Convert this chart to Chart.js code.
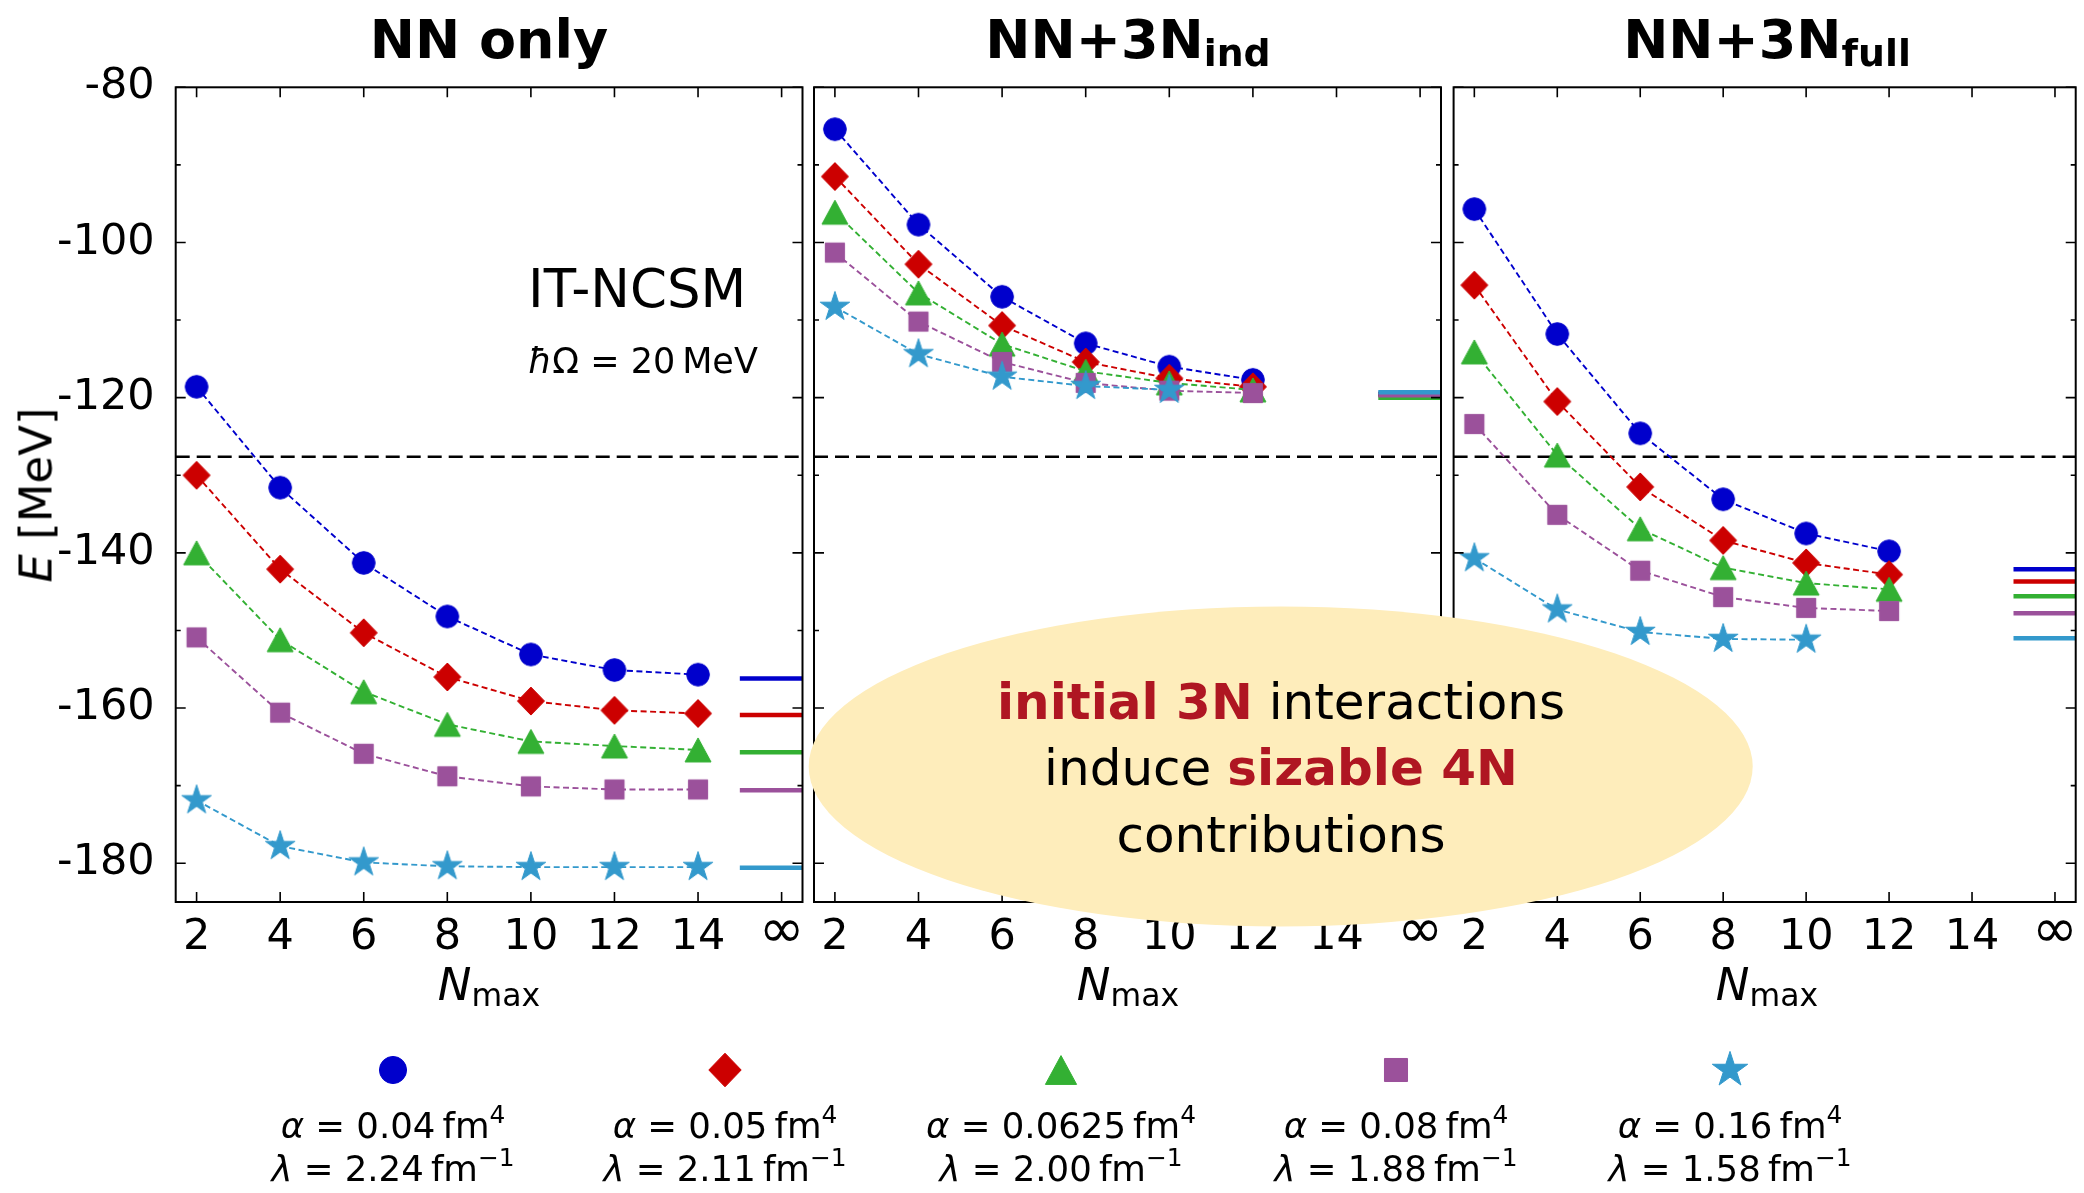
<!DOCTYPE html>
<html><head><meta charset="utf-8">
<script src="https://cdn.jsdelivr.net/npm/chart.js@4.4.1/dist/chart.umd.min.js"></script>
<style>
html,body{margin:0;padding:0;background:#fff;}
#wrap{position:relative;width:2084px;height:1193px;overflow:hidden;background:#fff;font-family:"DejaVu Sans",sans-serif;color:#000;}
#wrap canvas{position:absolute;left:0;top:0;}
.t{position:absolute;white-space:nowrap;line-height:normal;}
.c{transform:translateX(-50%);}
.sub{font-size:0.7em;position:relative;}
.sup{font-size:0.7em;position:relative;top:-0.62em;}
.red{color:#AF1622;font-weight:bold;}
</style></head><body>
<div id="wrap">
<canvas id="c1" width="2084" height="1193"></canvas>
<canvas id="c2" width="2084" height="1193"></canvas>
<canvas id="c3" width="2084" height="1193"></canvas>
<canvas id="ov" width="2084" height="1193"></canvas>

<div class="t c" style="left:489px;top:8px;font-size:54px;font-weight:bold;">NN only</div>
<div class="t c" style="left:1128px;top:8px;font-size:54px;font-weight:bold;">NN+3N<span class="sub" style="top:8px">ind</span></div>
<div class="t c" style="left:1767px;top:8px;font-size:54px;font-weight:bold;">NN+3N<span class="sub" style="top:8px">full</span></div>

<div class="t" style="left:528px;top:257.5px;font-size:53px;">IT-NCSM</div>
<div class="t" style="left:528px;top:340.5px;font-size:35px;"><i>ħ</i>Ω = 20&thinsp;MeV</div>

<div class="t" style="left:36.4px;top:495px;font-size:45px;transform:translate(-50%,-50%) rotate(-90deg);"><i>E</i>&nbsp;[MeV]</div>
<div class="t c" style="left:489px;top:958px;font-size:45px;"><i>N</i><span class="sub" style="top:6px">max</span></div>
<div class="t c" style="left:1128px;top:958px;font-size:45px;"><i>N</i><span class="sub" style="top:6px">max</span></div>
<div class="t c" style="left:1767px;top:958px;font-size:45px;"><i>N</i><span class="sub" style="top:6px">max</span></div>

<div class="t c" style="left:1281px;top:672.6px;font-size:50px;"><span class="red">initial 3N</span> interactions</div>
<div class="t c" style="left:1281px;top:739.1px;font-size:50px;">induce <span class="red">sizable 4N</span></div>
<div class="t c" style="left:1281px;top:805.6px;font-size:50px;">contributions</div>

<div id="legendText"></div>
</div>
<script>
// ---------------- data ----------------
const nmax = [2, 4, 6, 8, 10, 12, 14];
const xTicks = [2, 4, 6, 8, 10, 12, 14, 16];
const xTickLabels = ['2', '4', '6', '8', '10', '12', '14', '\u221E'];
const yTicks = [-180, -170, -160, -150, -140, -130, -120, -110, -100, -90, -80];
const expEnergy = -127.62;
const infBarX = [15, 16.5];

const alphas = ['0.04', '0.05', '0.0625', '0.08', '0.16'];
const lambdas = ['2.24', '2.11', '2.00', '1.88', '1.58'];

// NN only
const nnBlue   = [-118.6, -131.6, -141.3, -148.2, -153.1, -155.1, -155.7];
const nnRed    = [-130.0, -142.1, -150.3, -156.0, -159.1, -160.3, -160.7];
const nnGreen  = [-140.0, -151.2, -157.9, -162.1, -164.3, -164.9, -165.4];
const nnPurple = [-150.9, -160.6, -165.9, -168.8, -170.1, -170.5, -170.5];
const nnStar   = [-171.9, -177.8, -179.9, -180.4, -180.5, -180.5, -180.5];
const nnInf    = [-156.2, -160.9, -165.7, -170.6, -180.6];

// NN+3N induced
const indBlue   = [-85.4, -97.7, -107.0, -113.0, -116.0, -117.7];
const indRed    = [-91.5, -102.8, -110.7, -115.4, -117.5, -118.6];
const indGreen  = [-96.1, -106.5, -113.1, -116.6, -118.1, -119.0];
const indPurple = [-101.3, -110.2, -115.4, -118.1, -119.1, -119.4];
const indStar   = [-108.3, -114.4, -117.3, -118.5, -119.0];
const indInf    = [-119.5, -119.6, -120.0, -119.7, -119.3];

// NN+3N full
const fullBlue   = [-95.7, -111.8, -124.6, -133.1, -137.5, -139.8];
const fullRed    = [-105.5, -120.5, -131.5, -138.4, -141.3, -142.8];
const fullGreen  = [-114.1, -127.4, -136.9, -141.9, -143.9, -144.7];
const fullPurple = [-123.4, -135.1, -142.3, -145.7, -147.1, -147.5];
const fullStar   = [-140.7, -147.3, -150.2, -151.1, -151.2];
const fullInf    = [-142.1, -143.7, -145.6, -147.8, -151.0];

// ---------------- styles ----------------
const colors = ['#0000CC', '#CC0000', '#33B033', '#9B519B', '#3399CC'];
const shapes = ['circle', 'diamond', 'triangle', 'square', 'star'];

Chart.defaults.font.family = '"DejaVu Sans", sans-serif';
Chart.defaults.color = '#000';

function marker(shape, color, s) {
  const size = 2 * Math.ceil(20 * s);
  const c = document.createElement('canvas');
  c.width = c.height = size;
  const g = c.getContext('2d');
  const m = size / 2;
  g.fillStyle = color; g.strokeStyle = color; g.lineWidth = 1; g.lineJoin = 'miter';
  g.beginPath();
  if (shape === 'circle') {
    g.arc(m, m, 11.3 * s, 0, 2 * Math.PI);
  } else if (shape === 'diamond') {
    const rx = 13.5 * s, ry = 14 * s;
    g.moveTo(m, m - ry); g.lineTo(m + rx, m); g.lineTo(m, m + ry); g.lineTo(m - rx, m); g.closePath();
  } else if (shape === 'triangle') {
    const hx = 13 * s, hy = 12 * s;
    g.moveTo(m, m - hy); g.lineTo(m + hx, m + hy); g.lineTo(m - hx, m + hy); g.closePath();
  } else if (shape === 'square') {
    const h = 9.6 * s;
    g.rect(m - h, m - h, 2 * h, 2 * h);
  } else if (shape === 'star') {
    const R = 15.5 * s, r = R * 0.381966;
    for (let i = 0; i < 10; i++) {
      const a = -Math.PI / 2 + i * Math.PI / 5;
      const rr = (i % 2) ? r : R;
      const px = m + rr * Math.cos(a), py = m + rr * Math.sin(a);
      if (i) g.lineTo(px, py); else g.moveTo(px, py);
    }
    g.closePath();
  }
  g.fill(); g.stroke();
  return c;
}
const plotMarkers = shapes.map((s, i) => marker(s, colors[i], 1));
const legendMarkers = shapes.map((s, i) => marker(s, colors[i], 1.2));

const TOP = 87.3, BOT = 902, YW = 170, XH = 60, CW = 2084, CH = 1193;

const framePlugin = {
  id: 'frame',
  afterDatasetsDraw(chart) {
    const { ctx, chartArea: a, scales } = chart;
    const x = scales.x, y = scales.y;
    ctx.save();
    ctx.strokeStyle = '#000';
    ctx.lineWidth = 1.6;
    ctx.beginPath();
    xTicks.forEach(v => {
      const px = x.getPixelForValue(v);
      ctx.moveTo(px, a.bottom); ctx.lineTo(px, a.bottom - 10);
      ctx.moveTo(px, a.top); ctx.lineTo(px, a.top + 10);
    });
    yTicks.forEach(v => {
      const py = y.getPixelForValue(v);
      const len = (v % 20 === 0) ? 10 : 5;
      ctx.moveTo(a.left, py); ctx.lineTo(a.left + len, py);
      ctx.moveTo(a.right, py); ctx.lineTo(a.right - len, py);
    });
    ctx.stroke();
    ctx.lineWidth = 2;
    ctx.strokeRect(a.left, a.top, a.right - a.left, a.bottom - a.top);
    ctx.restore();
  }
};

function makePanel(id, L, R, series, inf, showY) {
  const datasets = [];
  datasets.push({
    data: [{ x: 1.5, y: expEnergy }, { x: 16.5, y: expEnergy }],
    borderColor: '#000', borderWidth: 2.4, borderDash: [14, 7], pointRadius: 0, order: 40
  });
  series.forEach((ys, k) => {
    datasets.push({
      data: [{ x: infBarX[0], y: inf[k] }, { x: infBarX[1], y: inf[k] }],
      borderColor: colors[k], borderWidth: 4.5, pointRadius: 0, order: 30 - k
    });
  });
  series.forEach((ys, k) => {
    datasets.push({
      data: ys.map((v, i) => ({ x: nmax[i], y: v })),
      borderColor: colors[k], backgroundColor: colors[k], borderWidth: 1.9, borderDash: [6, 3.5],
      pointStyle: plotMarkers[k], pointRadius: 10, pointHoverRadius: 10, tension: 0, fill: false,
      order: 10 - k
    });
  });
  return new Chart(document.getElementById(id), {
    type: 'line',
    data: { datasets },
    plugins: [framePlugin],
    options: {
      responsive: false, animation: false, devicePixelRatio: 1, events: [],
      layout: { autoPadding: false, padding: { left: L - YW, right: CW - R, top: TOP, bottom: CH - BOT - XH } },
      plugins: { legend: { display: false }, tooltip: { enabled: false }, title: { display: false } },
      scales: {
        x: {
          type: 'linear', min: 1.5, max: 16.5,
          grid: { display: false }, border: { display: false },
          afterBuildTicks: s => { s.ticks = xTicks.map(v => ({ value: v })); },
          afterFit: s => { s.height = XH; },
          ticks: {
            callback: v => { const i = xTicks.indexOf(v); return i >= 0 ? xTickLabels[i] : ''; },
            font: c => (c.tick && c.tick.value === 16) ? { size: 55, lineHeight: 0.62 } : { size: 43, lineHeight: 1 },
            color: '#000', padding: 6, maxRotation: 0, autoSkip: false
          }
        },
        y: {
          type: 'linear', min: -185, max: -80,
          grid: { display: false }, border: { display: false },
          afterBuildTicks: s => { s.ticks = yTicks.map(v => ({ value: v })); },
          afterFit: s => { s.width = YW; },
          ticks: {
            display: showY,
            callback: v => (v % 20 === 0 ? String(v) : ''),
            font: { size: 43, lineHeight: 1 }, color: '#000', padding: 13, autoSkip: false
          }
        }
      }
    }
  });
}

makePanel('c1', 175.7, 802.5, [nnBlue, nnRed, nnGreen, nnPurple, nnStar], nnInf, true);
makePanel('c2', 814, 1441, [indBlue, indRed, indGreen, indPurple, indStar], indInf, false);
makePanel('c3', 1453.6, 2080.5, [fullBlue, fullRed, fullGreen, fullPurple, fullStar], fullInf, false);

// overlay: annotation ellipse + legend glyphs
const ov = document.getElementById('ov').getContext('2d');
ov.fillStyle = '#FEEDBB';
ov.beginPath();
ov.ellipse(1280.7, 766.5, 472, 160, 0, 0, 2 * Math.PI);
ov.fill();

const legendX = [393, 725, 1061, 1396, 1730];
const legendY = 1070;
legendMarkers.forEach((m, i) => {
  ov.drawImage(m, legendX[i] - m.width / 2, legendY - m.height / 2);
});
const lt = document.getElementById('legendText');
const LF = 35.5;
let html = '';
alphas.forEach((a, i) => {
  html += '<div class="t c" style="left:' + legendX[i] + 'px;top:' + (1138 - 0.928 * LF) + 'px;font-size:' + LF + 'px;"><i>\u03B1</i> = ' + a + '&thinsp;fm<span class="sup">4</span></div>';
  html += '<div class="t c" style="left:' + legendX[i] + 'px;top:' + (1181 - 0.928 * LF) + 'px;font-size:' + LF + 'px;"><i>\u03BB</i> = ' + lambdas[i] + '&thinsp;fm<span class="sup">\u22121</span></div>';
});
lt.innerHTML = html;
</script>
</body></html>
